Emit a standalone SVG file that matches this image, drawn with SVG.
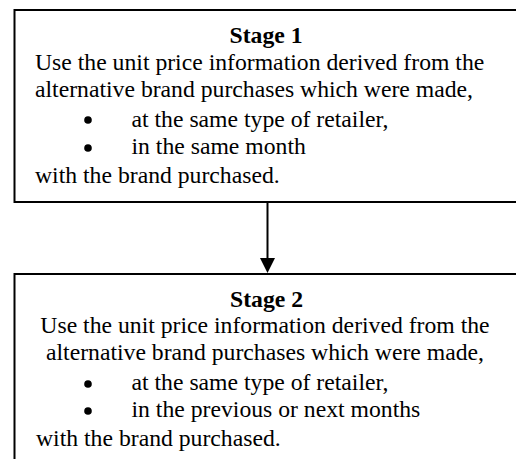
<svg xmlns="http://www.w3.org/2000/svg" width="516" height="459" viewBox="0 0 516 459">
<style>
.box{fill:#fff;stroke:#000;stroke-width:2}
.t{font-family:"Liberation Serif","Times New Roman",serif;font-size:23.7px;fill:#000}
.b{font-weight:bold}
.c{text-anchor:middle}
.dot{fill:#000}
.edge{stroke:#000;stroke-width:2;fill:none}
</style>
<rect width="516" height="459" fill="#fff"/>
<g id="stage1">
<rect class="box" x="14.5" y="10" width="520" height="192"/>
<text class="t b c" x="266" y="42.7">Stage 1</text>
<text class="t" x="35" y="70">Use the unit price information derived from the</text>
<text class="t" x="35" y="96.7">alternative brand purchases which were made,</text>
<circle class="dot" cx="88" cy="120" r="3.8"/>
<text class="t" x="131.5" y="126.7">at the same type of retailer,</text>
<circle class="dot" cx="88" cy="148" r="3.8"/>
<text class="t" x="131.5" y="154">in the same month</text>
<text class="t" x="35" y="182.7">with the brand purchased.</text>
</g>
<g id="stage2">
<rect class="box" x="14.5" y="274" width="520" height="200"/>
<text class="t b c" x="266.5" y="306.7">Stage 2</text>
<text class="t c" x="265" y="333.3">Use the unit price information derived from the</text>
<text class="t c" x="265" y="360">alternative brand purchases which were made,</text>
<circle class="dot" cx="88" cy="384" r="3.8"/>
<text class="t" x="131.5" y="390">at the same type of retailer,</text>
<circle class="dot" cx="88" cy="411" r="3.8"/>
<text class="t" x="131.5" y="416.7">in the previous or next months</text>
<text class="t" x="36" y="445.7">with the brand purchased.</text>
</g>
<g id="connectors">
<line class="edge" x1="267.5" y1="202" x2="267.5" y2="258"/>
<path d="M260,258 L275,258 L267.5,273 Z" fill="#000"/>
</g>
</svg>
